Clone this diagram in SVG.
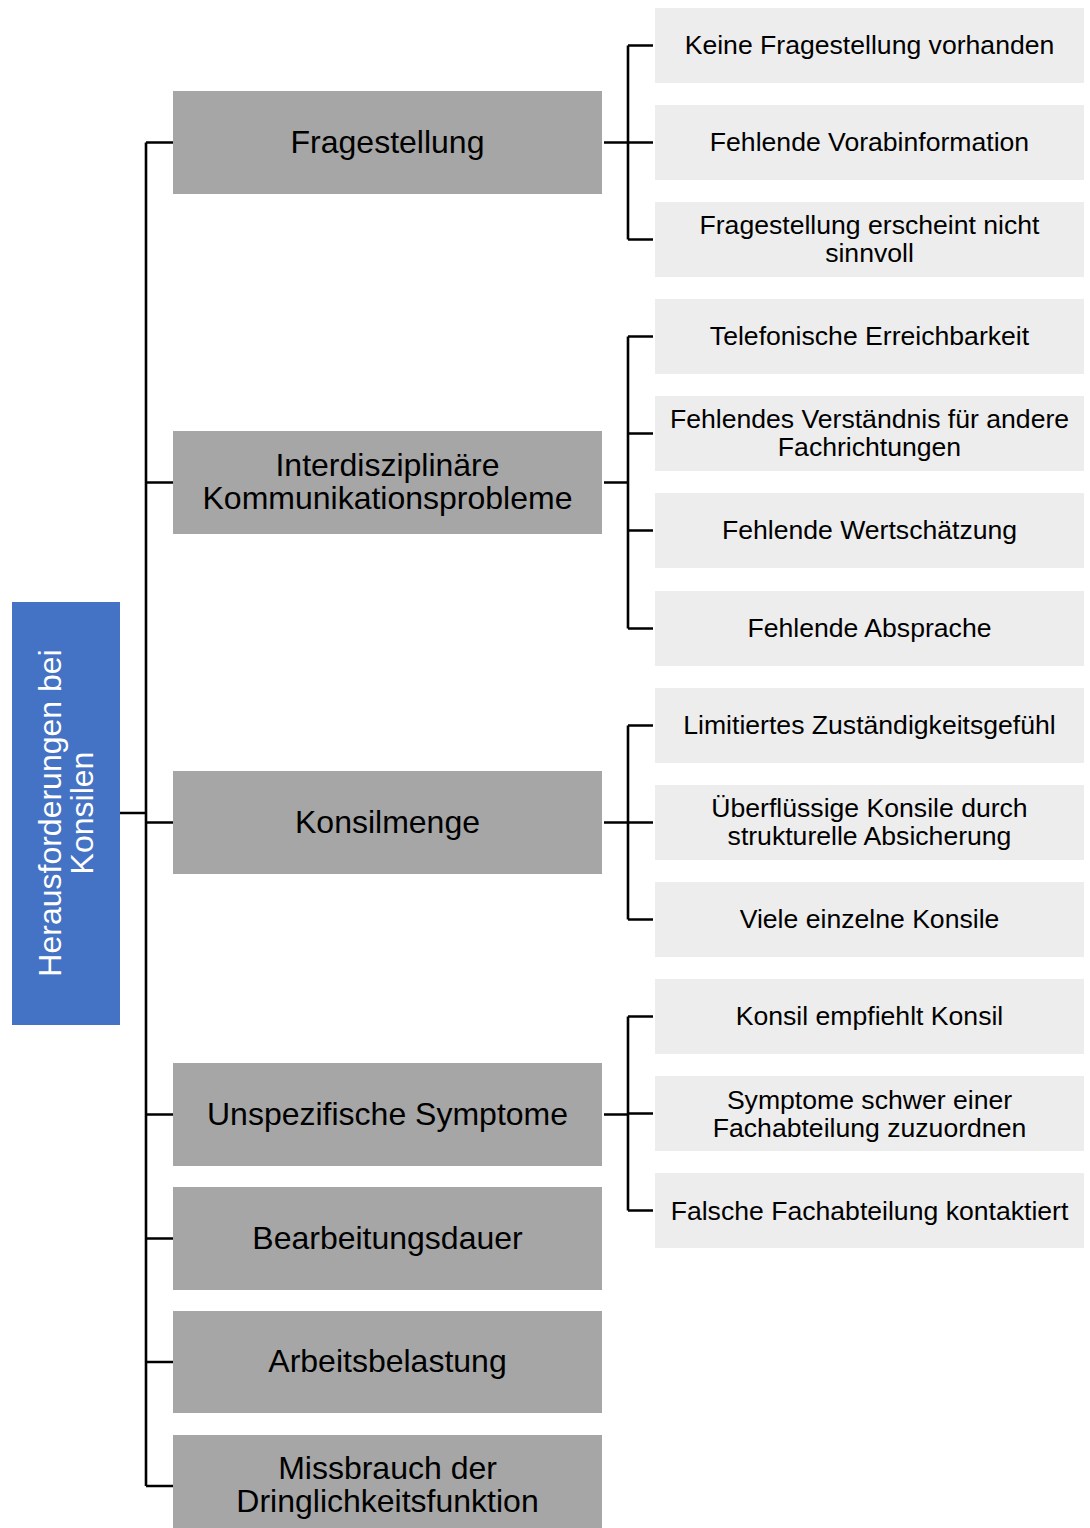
<svg xmlns="http://www.w3.org/2000/svg" width="1090" height="1528" viewBox="0 0 1090 1528">
<style>
.root{fill:#4472c4}
.l1{fill:#a6a6a6}
.leaf{fill:#ededed}
.t1{font-family:"Liberation Sans",Arial,sans-serif;font-size:32px;fill:#000;text-anchor:middle}
.tl{font-family:"Liberation Sans",Arial,sans-serif;font-size:26.6px;fill:#000;text-anchor:middle}
.tr{font-family:"Liberation Sans",Arial,sans-serif;font-size:32px;fill:#fff;text-anchor:middle}
.c{fill:none;stroke:#000;stroke-width:2.6}
</style>
<rect width="1090" height="1528" fill="#fff"/>
<g id="connectors">
<path class="c" d="M120,813H146M146,142.5V1486M146,142.5H173M146,482.5H173M146,822.5H173M146,1114.5H173M146,1238.5H173M146,1362H173M146,1486H173"/>
<path class="c" d="M604,142.5H628M628,45.5V239.5M628,45.5H653M628,142.5H653M628,239.5H653"/>
<path class="c" d="M604,482.5H628M628,336.5V628.5M628,336.5H653M628,433.5H653M628,530.5H653M628,628.5H653"/>
<path class="c" d="M604,822.5H628M628,725.5V919.5M628,725.5H653M628,822.5H653M628,919.5H653"/>
<path class="c" d="M604,1114.5H628M628,1016.5V1210.5M628,1016.5H653M628,1113.5H653M628,1210.5H653"/>
</g>
<g id="root">
<rect class="root" x="12" y="602" width="108" height="423"/>
<g transform="translate(66,813) rotate(-90)">
<text class="tr" x="0" y="-5">Herausforderungen bei</text>
<text class="tr" x="0" y="27">Konsilen</text>
</g>
</g>
<g id="n-fragestellung"><rect class="l1" x="173" y="91" width="429" height="103"/><text class="t1" x="387.5" y="153">Fragestellung</text></g>
<g id="n-interdisziplinaer"><rect class="l1" x="173" y="431" width="429" height="103"/><text class="t1" x="387.5" y="476">Interdisziplinäre</text><text class="t1" x="387.5" y="509">Kommunikationsprobleme</text></g>
<g id="n-konsilmenge"><rect class="l1" x="173" y="771" width="429" height="103"/><text class="t1" x="387.5" y="833">Konsilmenge</text></g>
<g id="n-unspezifisch"><rect class="l1" x="173" y="1063" width="429" height="103"/><text class="t1" x="387.5" y="1125">Unspezifische Symptome</text></g>
<g id="n-bearbeitung"><rect class="l1" x="173" y="1187" width="429" height="103"/><text class="t1" x="387.5" y="1249">Bearbeitungsdauer</text></g>
<g id="n-arbeitsbelastung"><rect class="l1" x="173" y="1311" width="429" height="102"/><text class="t1" x="387.5" y="1372">Arbeitsbelastung</text></g>
<g id="n-missbrauch"><rect class="l1" x="173" y="1435" width="429" height="103"/><text class="t1" x="387.5" y="1479">Missbrauch der</text><text class="t1" x="387.5" y="1512">Dringlichkeitsfunktion</text></g>
<g id="leaf-1"><rect class="leaf" x="655" y="8" width="429" height="75"/><text class="tl" x="869.5" y="54">Keine Fragestellung vorhanden</text></g>
<g id="leaf-2"><rect class="leaf" x="655" y="105" width="429" height="75"/><text class="tl" x="869.5" y="151">Fehlende Vorabinformation</text></g>
<g id="leaf-3"><rect class="leaf" x="655" y="202" width="429" height="75"/><text class="tl" x="869.5" y="234">Fragestellung erscheint nicht</text><text class="tl" x="869.5" y="262">sinnvoll</text></g>
<g id="leaf-4"><rect class="leaf" x="655" y="299" width="429" height="75"/><text class="tl" x="869.5" y="345">Telefonische Erreichbarkeit</text></g>
<g id="leaf-5"><rect class="leaf" x="655" y="396" width="429" height="75"/><text class="tl" x="869.5" y="428">Fehlendes Verständnis für andere</text><text class="tl" x="869.5" y="456">Fachrichtungen</text></g>
<g id="leaf-6"><rect class="leaf" x="655" y="493" width="429" height="75"/><text class="tl" x="869.5" y="539">Fehlende Wertschätzung</text></g>
<g id="leaf-7"><rect class="leaf" x="655" y="591" width="429" height="75"/><text class="tl" x="869.5" y="637">Fehlende Absprache</text></g>
<g id="leaf-8"><rect class="leaf" x="655" y="688" width="429" height="75"/><text class="tl" x="869.5" y="734">Limitiertes Zuständigkeitsgefühl</text></g>
<g id="leaf-9"><rect class="leaf" x="655" y="785" width="429" height="75"/><text class="tl" x="869.5" y="817">Überflüssige Konsile durch</text><text class="tl" x="869.5" y="845">strukturelle Absicherung</text></g>
<g id="leaf-10"><rect class="leaf" x="655" y="882" width="429" height="75"/><text class="tl" x="869.5" y="928">Viele einzelne Konsile</text></g>
<g id="leaf-11"><rect class="leaf" x="655" y="979" width="429" height="75"/><text class="tl" x="869.5" y="1025">Konsil empfiehlt Konsil</text></g>
<g id="leaf-12"><rect class="leaf" x="655" y="1076" width="429" height="75"/><text class="tl" x="869.5" y="1109">Symptome schwer einer</text><text class="tl" x="869.5" y="1137">Fachabteilung zuzuordnen</text></g>
<g id="leaf-13"><rect class="leaf" x="655" y="1173" width="429" height="75"/><text class="tl" x="869.5" y="1220">Falsche Fachabteilung kontaktiert</text></g>
</svg>
